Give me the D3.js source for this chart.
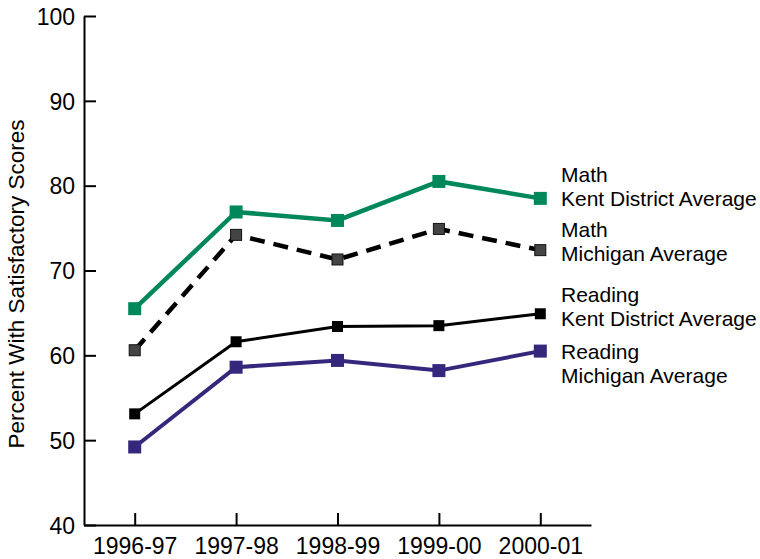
<!DOCTYPE html>
<html>
<head>
<meta charset="utf-8">
<script src="https://cdn.jsdelivr.net/npm/d3@7"></script>
<style>
    body { margin: 0; background: #fff; }
    svg text { font-family: "Liberation Sans", Arial, sans-serif; fill: #000; }
</style>
</head>
<body>
<div id="chart"></div>
<script>
// school years on the x axis
var years = ["1996-97", "1997-98", "1998-99", "1999-00", "2000-01"];
var yTicks = [40, 50, 60, 70, 80, 90, 100];

// percent with satisfactory scores
var mathKent = [65.5, 76.9, 75.9, 80.5, 78.5];
var mathMichigan = [60.6, 74.2, 71.3, 74.9, 72.4];
var readingKent = [53.1, 61.6, 63.4, 63.5, 64.9];
var readingMichigan = [49.2, 58.6, 59.4, 58.2, 60.5];

var seriesLabels = [
    ["Math", "Kent District Average"],
    ["Math", "Michigan Average"],
    ["Reading", "Kent District Average"],
    ["Reading", "Michigan Average"]
];

function init() {
    var w = 760;
    var h = 559;

    var svg = d3.select("#chart")
        .append("svg")
        .attr("width", w)
        .attr("height", h);

    var xScale = d3.scalePoint()
        .domain(years)
        .range([84, 591])
        .padding(0.5);

    var yScale = d3.scaleLinear()
        .domain([40, 100])
        .range([525, 16]);

    // axes with ticks pointing inward
    var xAxis = d3.axisBottom(xScale)
        .tickSizeInner(-12)
        .tickSizeOuter(0)
        .tickPadding(13);

    var yAxis = d3.axisLeft(yScale)
        .tickValues(yTicks)
        .tickSizeInner(-12)
        .tickSizeOuter(0)
        .tickPadding(9);

    var gx = svg.append("g")
        .attr("transform", "translate(0,525)")
        .call(xAxis);

    var gy = svg.append("g")
        .attr("transform", "translate(84,0)")
        .call(yAxis);

    [gx, gy].forEach(function (g) {
        g.selectAll("path, line").attr("stroke", "#000").attr("stroke-width", 2);
        g.selectAll("text").style("font-size", "23px");
    });
    gy.selectAll("text").attr("dy", "0.36em");

    // y axis title
    svg.append("text")
        .attr("transform", "translate(24,284) rotate(-90)")
        .attr("text-anchor", "middle")
        .style("font-size", "22.5px")
        .text("Percent With Satisfactory Scores");

    var series = [
        { values: mathKent, color: "#00875a", width: 4.5, dash: null, size: 13, fill: "#00875a", stroke: "none" },
        { values: mathMichigan, color: "#000", width: 4.5, dash: "15,9", size: 11, fill: "#444", stroke: "#111" },
        { values: readingKent, color: "#000", width: 3, dash: null, size: 11, fill: "#000", stroke: "none" },
        { values: readingMichigan, color: "#35277c", width: 4, dash: null, size: 13, fill: "#35277c", stroke: "none" }
    ];

    var line = d3.line()
        .x(function (d, i) { return xScale(years[i]); })
        .y(function (d) { return yScale(d); });

    series.forEach(function (s, k) {
        svg.append("path")
            .datum(s.values)
            .attr("d", line)
            .attr("fill", "none")
            .attr("stroke", s.color)
            .attr("stroke-width", s.width)
            .attr("stroke-dasharray", s.dash);

        svg.selectAll(".dot" + k)
            .data(s.values)
            .enter()
            .append("rect")
            .attr("class", "dot" + k)
            .attr("x", function (d, i) { return xScale(years[i]) - s.size / 2; })
            .attr("y", function (d) { return yScale(d) - s.size / 2; })
            .attr("width", s.size)
            .attr("height", s.size)
            .attr("fill", s.fill)
            .attr("stroke", s.stroke)
            .attr("stroke-width", 1);
    });

    // labels at the right end of each line
    var labelY = [182, 237, 302, 359];
    seriesLabels.forEach(function (lab, k) {
        var t = svg.append("text")
            .attr("x", 561)
            .attr("y", labelY[k])
            .style("font-size", "21px");
        t.append("tspan").attr("x", 561).text(lab[0]);
        t.append("tspan").attr("x", 561).attr("dy", 24).text(lab[1]);
    });
}

window.onload = init;
</script>
</body>
</html>
